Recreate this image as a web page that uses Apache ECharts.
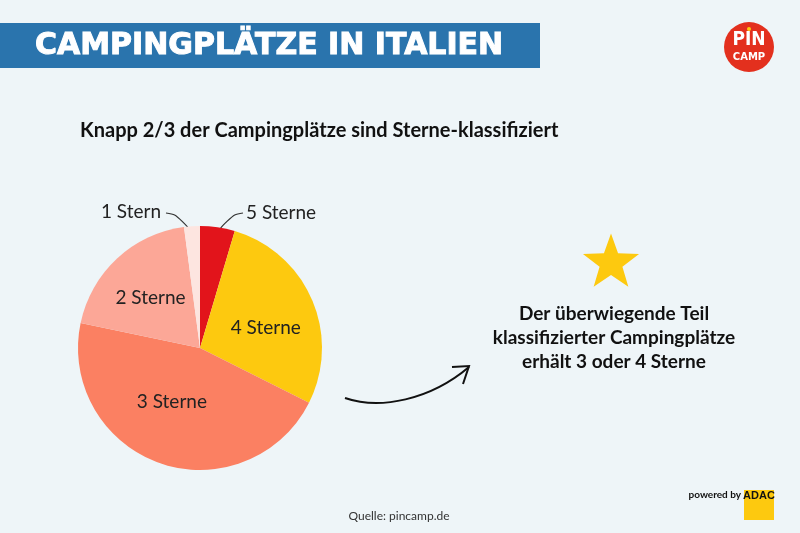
<!DOCTYPE html>
<html><head><meta charset="utf-8">
<script src="https://cdn.jsdelivr.net/npm/echarts@6/dist/echarts.min.js"></script>
<style>html,body{margin:0;padding:0;background:#eef5f8}#c{width:800px;height:533px}</style>
</head><body><div id="c"></div>
<script>
const categories = ['5 Sterne', '4 Sterne', '3 Sterne', '2 Sterne', '1 Stern'];
const values = [4.6, 27.8, 45.9, 19.6, 2.1];
const colors = ['#e2141b', '#fdc90f', '#fb8062', '#fca797', '#fde5e0'];
const title = 'CAMPINGPLÄTZE IN ITALIEN';
const subtitle = 'Knapp 2/3 der Campingplätze sind Sterne-klassifiziert';
const noteLines = ['Der überwiegende Teil', 'klassifizierter Campingplätze', 'erhält 3 oder 4 Sterne'];
const source = 'Quelle: pincamp.de';

const FONT = 'Lato, "Open Sans", sans-serif';
const chart = echarts.init(document.getElementById('c'), null, {renderer: 'canvas'});

function starPoints(cx, cy, R, r) {
  const pts = [];
  for (let i = 0; i < 10; i++) {
    const a = -Math.PI / 2 + i * Math.PI / 5;
    const rad = i % 2 === 0 ? R : r;
    pts.push([cx + rad * Math.cos(a), cy + rad * Math.sin(a)]);
  }
  return pts;
}

const insideOffsets = {1: [7, 5], 2: [-7, -7], 3: [-6, -3]};

const data = categories.map((c, i) => {
  const d = {name: c, value: values[i], itemStyle: {color: colors[i]}};
  if (i === 0 || i === 4) {
    d.label = {show: true, position: 'outside', fontSize: 19, color: '#222', fontFamily: FONT};
    d.labelLine = {show: true, smooth: 0.6, lineStyle: {color: '#333', width: 1.2}};
  } else {
    d.label = {show: true, position: 'inside', fontSize: 19, color: '#222', fontFamily: FONT};
  }
  return d;
});

chart.setOption({
  backgroundColor: '#eef5f8',
  animation: false,
  series: [{
    type: 'pie',
    center: [200, 348],
    radius: [0, 122],
    startAngle: 90,
    clockwise: true,
    data: data,
    label: {formatter: '{b}'},
    labelLayout: function (p) {
      const i = p.dataIndex;
      if (i === 0) {
        return {x: 246, y: 213, align: 'left', verticalAlign: 'middle',
          labelLinePoints: [[217, 240], [222, 216], [243, 213]]};
      }
      if (i === 4) {
        return {x: 161, y: 212, align: 'right', verticalAlign: 'middle',
          labelLinePoints: [[192, 241], [188, 216], [166, 213]]};
      }
      const o = insideOffsets[i];
      return {dx: o[0], dy: o[1]};
    }
  }],
  graphic: [
    {type: 'rect', shape: {x: 0, y: 23, width: 540, height: 45}, style: {fill: '#2a74ad'}},
    {type: 'text', x: 35, y: 46, style: {text: title, fill: '#fff', stroke: '#fff', lineWidth: 1, font: 'bold 30px "DejaVu Sans", sans-serif', textVerticalAlign: 'middle'}},
    {type: 'circle', shape: {cx: 749, cy: 47, r: 25}, style: {fill: '#e3301e'}},
    {type: 'text', x: 749, y: 40, style: {text: 'PIN', fill: '#fff', font: 'bold 19px "DejaVu Sans Condensed", "DejaVu Sans", sans-serif', textAlign: 'center', textVerticalAlign: 'middle'}},
    {type: 'circle', shape: {cx: 749, cy: 29, r: 2}, style: {fill: '#fdc90f'}},
    {type: 'text', x: 749, y: 57, style: {text: 'CAMP', fill: '#fff', font: 'bold 10px "DejaVu Sans", sans-serif', textAlign: 'center', textVerticalAlign: 'middle'}},
    {type: 'text', x: 80, y: 131, style: {text: subtitle, fill: '#111', font: 'bold 20px ' + FONT, textVerticalAlign: 'middle'}},
    {type: 'polygon', shape: {points: starPoints(611, 263, 29.5, 12)}, style: {fill: '#fdc90f'}},
    {type: 'text', x: 614, y: 314, style: {text: noteLines[0], fill: '#111', font: 'bold 19px ' + FONT, textAlign: 'center', textVerticalAlign: 'middle'}},
    {type: 'text', x: 614, y: 338, style: {text: noteLines[1], fill: '#111', font: 'bold 19px ' + FONT, textAlign: 'center', textVerticalAlign: 'middle'}},
    {type: 'text', x: 614, y: 362, style: {text: noteLines[2], fill: '#111', font: 'bold 19px ' + FONT, textAlign: 'center', textVerticalAlign: 'middle'}},
    {type: 'bezierCurve', shape: {x1: 345, y1: 398, cpx1: 380, cpy1: 410, cpx2: 430, cpy2: 400, x2: 469, y2: 367}, style: {stroke: '#111', lineWidth: 2, fill: null}},
    {type: 'polyline', shape: {points: [[452, 367], [469, 366], [463, 384]]}, style: {stroke: '#111', lineWidth: 2, fill: null}},
    {type: 'text', x: 399, y: 516, style: {text: source, fill: '#333', font: '12px ' + FONT, textAlign: 'center', textVerticalAlign: 'middle'}},
    {type: 'text', x: 741, y: 495, style: {text: 'powered by', fill: '#111', font: 'bold 10px ' + FONT, textAlign: 'right', textVerticalAlign: 'middle'}},
    {type: 'rect', shape: {x: 744, y: 490, width: 30, height: 30}, style: {fill: '#fdc90f'}},
    {type: 'text', x: 759, y: 496, style: {text: 'ADAC', fill: '#111', font: 'bold 11px "Liberation Sans Narrow", Arial, sans-serif', textAlign: 'center', textVerticalAlign: 'middle'}}
  ]
});
</script></body></html>
